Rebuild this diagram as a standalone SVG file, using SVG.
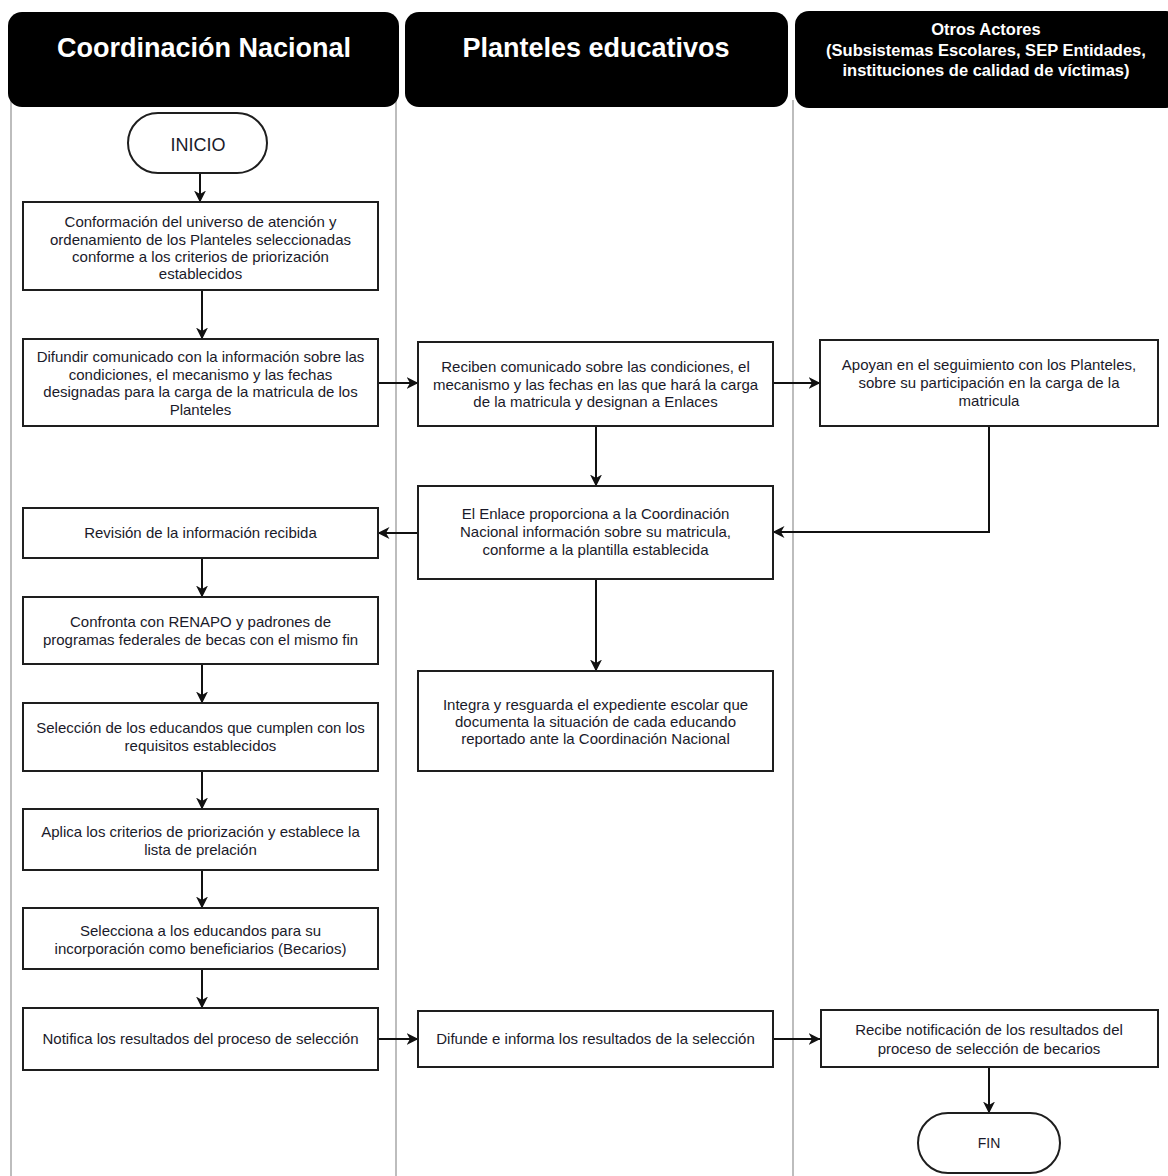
<svg xmlns="http://www.w3.org/2000/svg" width="1168" height="1176" viewBox="0 0 1168 1176">
<style>
.hdr{fill:#000}
.ht{fill:#fff;font-family:"Liberation Sans",Arial,sans-serif;font-weight:bold;text-anchor:middle}
.lane{stroke:#bdbdbd;stroke-width:2;fill:none}
.box{fill:#fff;stroke:#1e1e1e;stroke-width:2}
.t{fill:#1a1a2a;font-family:"Liberation Sans",Arial,sans-serif;font-size:15px;text-anchor:middle}
.c{stroke:#111;stroke-width:2;fill:none;marker-end:url(#arr)}
</style>
<defs>
<marker id="arr" viewBox="0 0 12 12" refX="11.5" refY="6" markerWidth="12" markerHeight="12" markerUnits="userSpaceOnUse" orient="auto">
<path d="M0,0 L12,6 L0,12 L3.5,6 z" fill="#111"/>
</marker>
</defs>
<rect width="1168" height="1176" fill="#fff"/>
<g id="lanes">
<line class="lane" x1="11" y1="100" x2="11" y2="1176"/>
<line class="lane" x1="396" y1="100" x2="396" y2="1176"/>
<line class="lane" x1="793" y1="100" x2="793" y2="1176"/>
</g>
<g id="header-coordinacion">
<rect class="hdr" x="8" y="12" width="391" height="95" rx="14"/>
<text class="ht" x="204" y="57" font-size="27">Coordinación Nacional</text>
</g>
<g id="header-planteles">
<rect class="hdr" x="405" y="12" width="383" height="95" rx="14"/>
<text class="ht" x="596" y="57" font-size="27">Planteles educativos</text>
</g>
<g id="header-otros">
<rect class="hdr" x="795" y="11" width="385" height="97" rx="14"/>
<text class="ht" x="986" y="35" font-size="16.5">Otros Actores</text>
<text class="ht" x="986" y="55.5" font-size="16.5">(Subsistemas Escolares, SEP Entidades,</text>
<text class="ht" x="986" y="75.5" font-size="16.5">instituciones de calidad de víctimas)</text>
</g>
<g id="connectors">
<path class="c" d="M200,173 V202"/>
<path class="c" d="M202,290 V339"/>
<path class="c" d="M378,383 H418"/>
<path class="c" d="M773,383 H820"/>
<path class="c" d="M596,426 V486"/>
<path class="c" d="M989,426 V532 H773"/>
<path class="c" d="M418,533 H378"/>
<path class="c" d="M596,579 V671"/>
<path class="c" d="M202,558 V597"/>
<path class="c" d="M202,664 V703"/>
<path class="c" d="M202,771 V809"/>
<path class="c" d="M202,870 V908"/>
<path class="c" d="M202,969 V1008"/>
<path class="c" d="M378,1039 H418"/>
<path class="c" d="M773,1039 H820"/>
<path class="c" d="M989,1067 V1113"/>
</g>
<g id="inicio">
<rect class="box" x="128" y="113" width="139" height="60" rx="30"/>
<text class="t" x="198" y="151" font-size="18" style="font-size:18px">INICIO</text>
</g>
<g id="conformacion">
<rect class="box" x="23" y="202" width="355" height="88"/>
<text class="t" x="200.5" y="227">Conformación del universo de atención y</text>
<text class="t" x="200.5" y="244.5">ordenamiento de los Planteles seleccionadas</text>
<text class="t" x="200.5" y="262">conforme a los criterios de priorización</text>
<text class="t" x="200.5" y="279">establecidos</text>
</g>
<g id="difundir">
<rect class="box" x="23" y="339" width="355" height="87"/>
<text class="t" x="200.5" y="362">Difundir comunicado con la información sobre las</text>
<text class="t" x="200.5" y="379.5">condiciones, el mecanismo y las fechas</text>
<text class="t" x="200.5" y="397">designadas para la carga de la matricula de los</text>
<text class="t" x="200.5" y="414.5">Planteles</text>
</g>
<g id="revision">
<rect class="box" x="23" y="508" width="355" height="50"/>
<text class="t" x="200.5" y="538">Revisión de la información recibida</text>
</g>
<g id="confronta">
<rect class="box" x="23" y="597" width="355" height="67"/>
<text class="t" x="200.5" y="627">Confronta con RENAPO y padrones de</text>
<text class="t" x="200.5" y="645">programas federales de becas con el mismo fin</text>
</g>
<g id="seleccion">
<rect class="box" x="23" y="703" width="355" height="68"/>
<text class="t" x="200.5" y="733">Selección de los educandos que cumplen con los</text>
<text class="t" x="200.5" y="750.5">requisitos establecidos</text>
</g>
<g id="aplica">
<rect class="box" x="23" y="809" width="355" height="61"/>
<text class="t" x="200.5" y="837">Aplica los criterios de priorización y establece la</text>
<text class="t" x="200.5" y="854.5">lista de prelación</text>
</g>
<g id="selecciona">
<rect class="box" x="23" y="908" width="355" height="61"/>
<text class="t" x="200.5" y="936">Selecciona a los educandos para su</text>
<text class="t" x="200.5" y="953.5">incorporación como beneficiarios (Becarios)</text>
</g>
<g id="notifica">
<rect class="box" x="23" y="1008" width="355" height="62"/>
<text class="t" x="200.5" y="1043.5">Notifica los resultados del proceso de selección</text>
</g>
<g id="reciben">
<rect class="box" x="418" y="342" width="355" height="84"/>
<text class="t" x="595.5" y="372">Reciben comunicado sobre las condiciones, el</text>
<text class="t" x="595.5" y="389.5">mecanismo y las fechas en las que hará la carga</text>
<text class="t" x="595.5" y="407">de la matricula y designan a Enlaces</text>
</g>
<g id="enlace">
<rect class="box" x="418" y="486" width="355" height="93"/>
<text class="t" x="595.5" y="519">El Enlace proporciona a la Coordinación</text>
<text class="t" x="595.5" y="537">Nacional información sobre su matricula,</text>
<text class="t" x="595.5" y="555">conforme a la plantilla establecida</text>
</g>
<g id="integra">
<rect class="box" x="418" y="671" width="355" height="100"/>
<text class="t" x="595.5" y="710">Integra y resguarda el expediente escolar que</text>
<text class="t" x="595.5" y="727">documenta la situación de cada educando</text>
<text class="t" x="595.5" y="744">reportado ante la Coordinación Nacional</text>
</g>
<g id="difunde">
<rect class="box" x="418" y="1011" width="355" height="56"/>
<text class="t" x="595.5" y="1044">Difunde e informa los resultados de la selección</text>
</g>
<g id="apoyan">
<rect class="box" x="820" y="340" width="338" height="86"/>
<text class="t" x="989" y="370">Apoyan en el seguimiento con los Planteles,</text>
<text class="t" x="989" y="388">sobre su participación en la carga de la</text>
<text class="t" x="989" y="406">matricula</text>
</g>
<g id="recibe">
<rect class="box" x="821" y="1010" width="337" height="57"/>
<text class="t" x="989" y="1034.5">Recibe notificación de los resultados del</text>
<text class="t" x="989" y="1053.5">proceso de selección de becarios</text>
</g>
<g id="fin">
<rect class="box" x="918" y="1113" width="142" height="60" rx="30"/>
<text class="t" x="989" y="1148" style="font-size:14px">FIN</text>
</g>
</svg>
